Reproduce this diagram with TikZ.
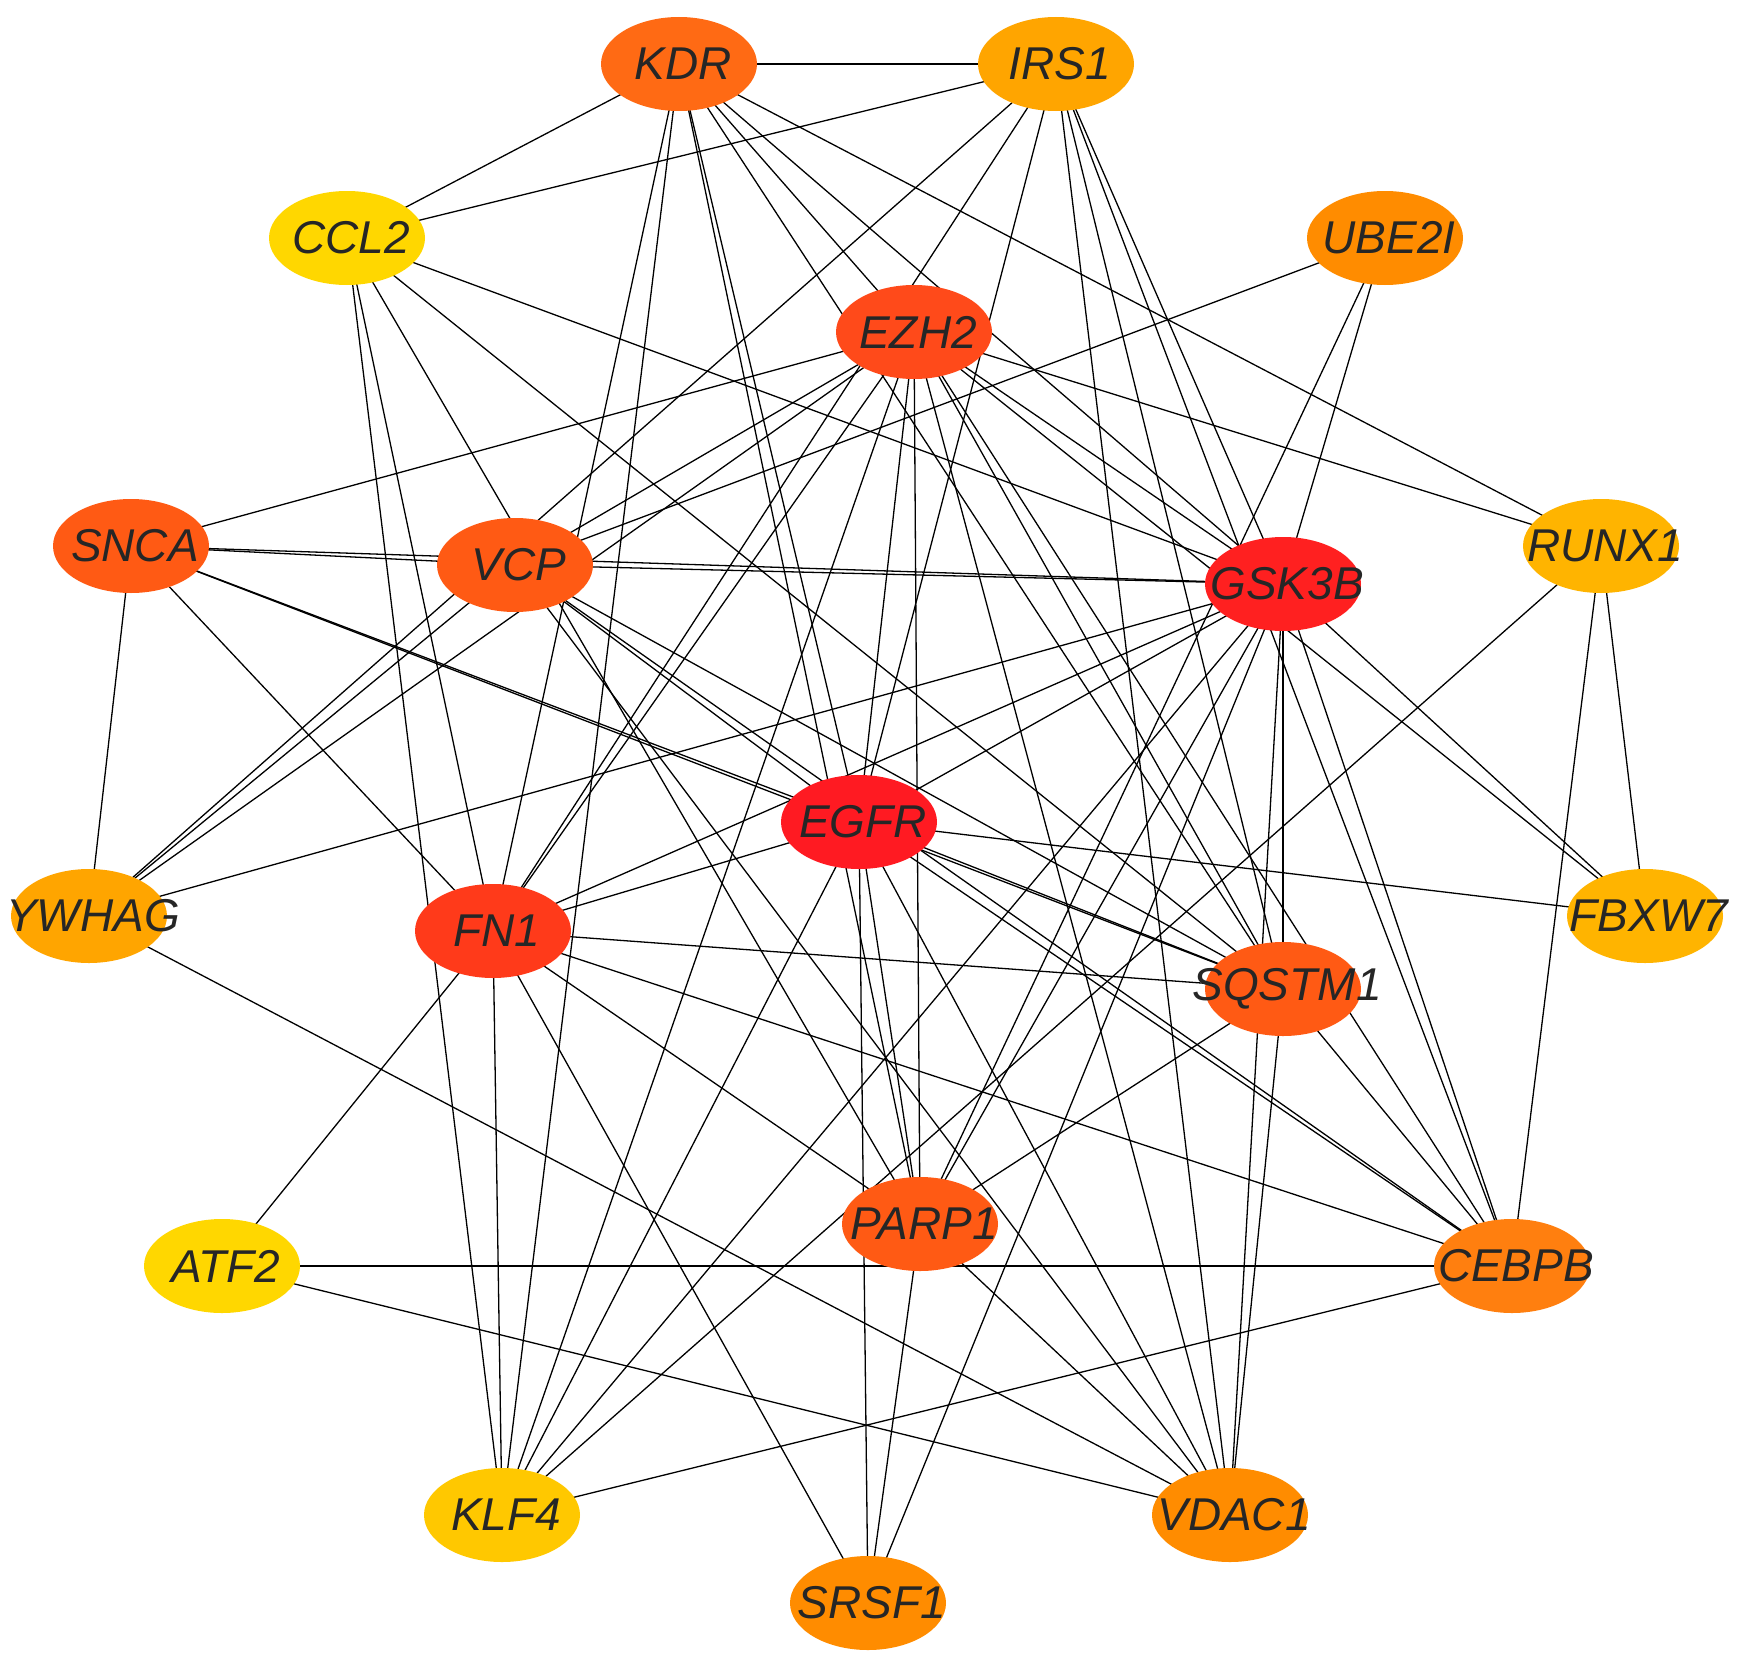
\documentclass[tikz,border=0pt]{standalone}
\usepackage{fontspec}
\setmainfont{Liberation Sans}
\usetikzlibrary{shapes.geometric}
\pgfdeclarelayer{bg}\pgfsetlayers{bg,main}
\begin{document}
\begin{tikzpicture}[x=1pt,y=-1pt,
 gene/.style={ellipse,minimum width=156pt,minimum height=94pt,inner sep=0pt,text=black!85,font=\fontsize{46}{50}\selectfont\itshape},
 edge/.style={line width=1.3pt,black}]
\useasboundingbox (0,0) rectangle (1737,1662);
\foreach \n/\x/\y/\c in {KDR/679/64/FF6A14, IRS1/1056/64/FFA500, CCL2/347/238/FFD700, UBE2I/1385/238/FF8C00,
 EZH2/914/332/FF4A1A, SNCA/131/546/FF5A14, VCP/515/565/FF5A14, GSK3B/1283/584/FF2020, RUNX1/1601/546/FFB400,
 EGFR/859/822/FF1A22, YWHAG/89/916/FFA500, FN1/493/931/FF3A1A, SQSTM1/1283/989/FF5A14, FBXW7/1645/916/FFB400,
 PARP1/920/1224/FF5A14, ATF2/222/1266/FFD700, CEBPB/1512/1266/FF7F0F, KLF4/502/1515/FFC800,
 VDAC1/1230/1515/FF8C00, SRSF1/868/1603/FF8C00}
 {\definecolor{c\n}{HTML}{\c}\node[gene,fill=c\n] (\n) at (\x,\y) {\makebox[0pt]{\hspace{8pt}\n}};}
\begin{pgfonlayer}{bg}
\foreach \a/\b in {KDR/IRS1,KDR/CCL2,KDR/FN1,KDR/KLF4,KDR/EGFR,KDR/PARP1,KDR/EZH2,KDR/GSK3B,KDR/SQSTM1,KDR/RUNX1,
 IRS1/CCL2,IRS1/YWHAG,IRS1/FN1,IRS1/EGFR,IRS1/GSK3B,IRS1/SQSTM1,IRS1/CEBPB,IRS1/VDAC1,
 CCL2/KLF4,CCL2/FN1,CCL2/GSK3B,CCL2/SQSTM1,CCL2/PARP1,
 UBE2I/VCP,UBE2I/GSK3B,UBE2I/PARP1,
 EZH2/SNCA,EZH2/VCP,EZH2/YWHAG,EZH2/FN1,EZH2/KLF4,EZH2/EGFR,EZH2/PARP1,EZH2/GSK3B,EZH2/FBXW7,EZH2/RUNX1,EZH2/SQSTM1,EZH2/CEBPB,EZH2/VDAC1,
 SNCA/VCP,SNCA/GSK3B,SNCA/YWHAG,SNCA/FN1,SNCA/EGFR,SNCA/SQSTM1,
 VCP/GSK3B,VCP/YWHAG,VCP/EGFR,VCP/SQSTM1,VCP/CEBPB,VCP/VDAC1,
 GSK3B/YWHAG,GSK3B/FN1,GSK3B/EGFR,GSK3B/KLF4,GSK3B/PARP1,GSK3B/SQSTM1,GSK3B/FBXW7,GSK3B/CEBPB,GSK3B/VDAC1,GSK3B/SRSF1,
 RUNX1/FBXW7,RUNX1/CEBPB,RUNX1/KLF4,
 EGFR/FN1,EGFR/FBXW7,EGFR/SQSTM1,EGFR/CEBPB,EGFR/PARP1,EGFR/SRSF1,EGFR/VDAC1,EGFR/KLF4,
 YWHAG/VDAC1,
 FN1/SQSTM1,FN1/CEBPB,FN1/PARP1,FN1/KLF4,FN1/ATF2,FN1/SRSF1,
 SQSTM1/PARP1,SQSTM1/VDAC1,SQSTM1/CEBPB,
 PARP1/SRSF1,PARP1/VDAC1,
 ATF2/CEBPB,ATF2/VDAC1,CEBPB/KLF4}
 {\draw[edge] (\a.center) -- (\b.center);}
\end{pgfonlayer}
\end{tikzpicture}
\end{document}
